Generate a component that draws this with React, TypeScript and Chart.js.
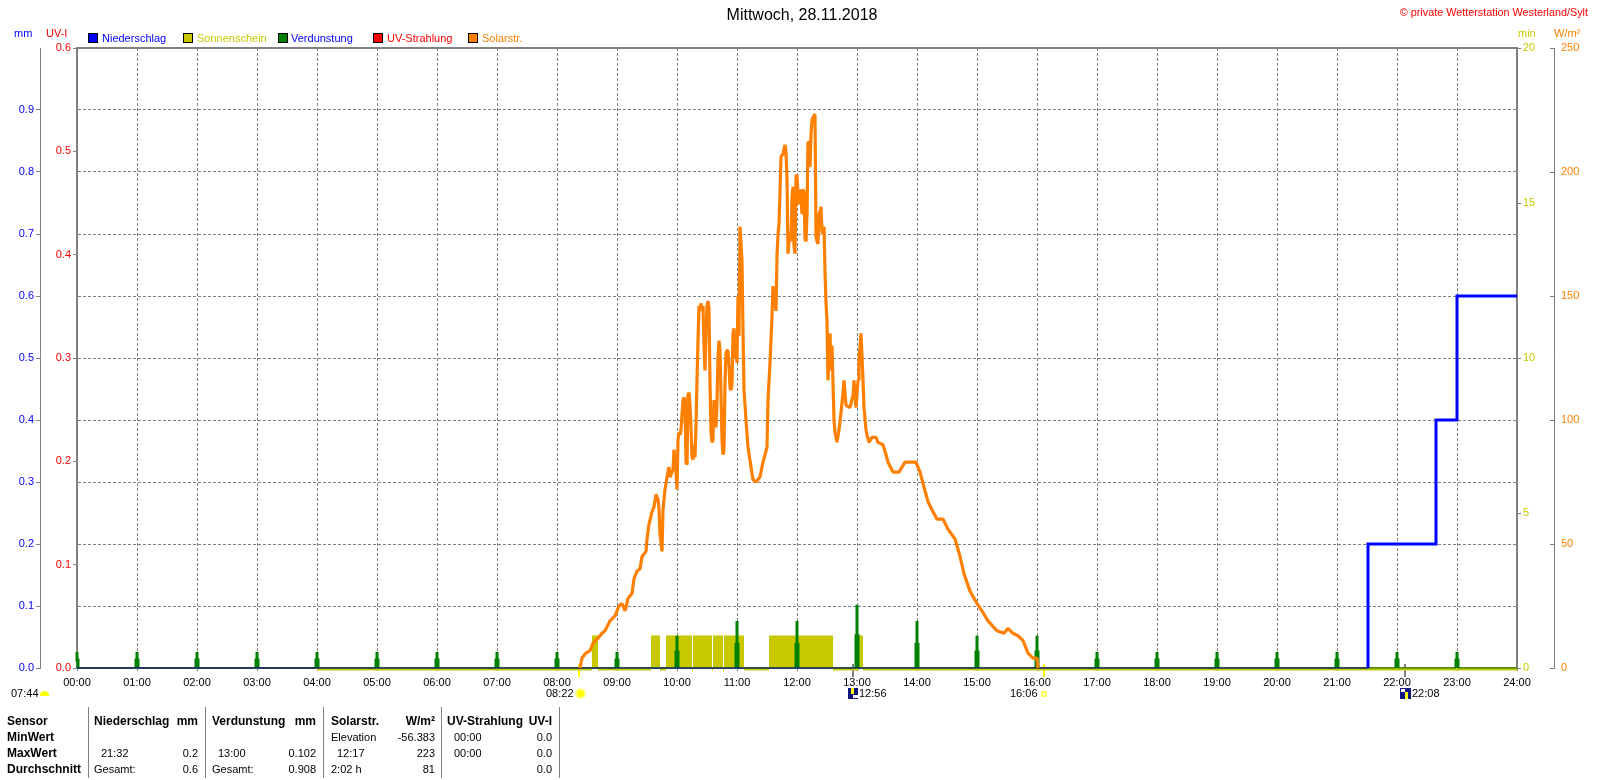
import React, { useEffect, useRef } from "react";
import { Chart, registerables } from "chart.js";

Chart.register(...registerables);

const FONT = '"Liberation Sans", Arial, sans-serif';
const GRAY = "#808080";
const OLIVE = "#c8c800";
const ORANGE = "#ff8000";

const hourLabels = ["00:00","01:00","02:00","03:00","04:00","05:00","06:00","07:00","08:00","09:00","10:00","11:00","12:00","13:00","14:00","15:00","16:00","17:00","18:00","19:00","20:00","21:00","22:00","23:00","24:00"];

const solarMinutes = [503,505,509,513,516,521,525,528,533,538,540,542,545,548,551,555,557,560,563,565,569,570,572,575,577,579,581,582,583,585,586,588,590,592,593,596,597,599,600,601,602,603,604,605,606,607,608,609,610,611,612,613,614,615,616,617,618,619,620,621,622,623,624,625,626,627,628,629,630,631,632,633,634,635,636,637,638,639,640,641,642,643,644,645,646,647,648,649,650,651,652,653,654,655,656,657,658,659,660,661,662,663,665,666,667,669,671,674,676,679,683,686,690,691,693,695,696,699,700,701,702,703,704,705,706,707,708,709,710,711,712,713,714,715,716,717,718,719,720,721,722,723,724,725,726,727,728,729,730,731,732,733,734,735,736,737,738,739,740,741,742,743,744,745,746,747,748,749,750,751,753,754,755,756,757,758,760,762,764,766,767,769,773,776,777,779,781,782,784,786,787,789,790,792,795,799,801,806,809,811,816,822,828,839,843,847,851,856,860,866,871,878,883,887,893,900,905,911,920,927,931,936,941,946,951,956,960,961];
const solarValues = [0,4,6,7,10,12,14,15,19,21,23,25,26,23,28,30,36,39,40,45,47,52,58,63,65,70,68,64,54,47,64,72,77,81,77,80,88,80,72,92,95,94,96,102,108,109,108,83,82,110,111,106,97,85,84,90,85,98,116,132,146,145,147,144,146,130,120,135,146,148,145,115,95,91,92,108,105,97,108,125,132,128,110,92,86,88,115,127,128,128,122,113,112,114,135,137,125,128,123,150,134,178,164,136,112,100,89,81,76,75,77,83,89,108,123,142,154,144,166,175,179,192,206,207,207,209,211,208,197,167,172,176,172,190,194,170,167,198,199,190,187,193,190,183,193,192,173,172,183,212,212,202,215,221,222,223,223,174,172,171,183,184,186,176,175,178,160,147,140,116,135,120,130,115,100,95,91,96,103,111,116,106,105,110,116,105,116,124,135,116,105,96,94,91,93,93,91,90,86,83,79,79,83,83,79,73,67,63,60,60,56,52,45,38,31,26,23,19,15,14,16,14,13,11,6,4,4,0];

const rainMinutes = [0,1291,1291,1359,1359,1380,1380,1440];
const rainValues = [0,0,0.2,0.2,0.4,0.4,0.6,0.6];

const sunMinutes = [240,515,515,521,521,574,574,583,583,589,589,615,615,616,616,635,635,636,636,646,646,647,647,667,667,692,692,756,756,782,782,786,786,1440];
const sunValues = [0,0,1.05,1.05,0,0,1.05,1.05,0,0,1.05,1.05,0,0,1.05,1.05,0,0,1.05,1.05,0,0,1.05,1.05,0,0,1.05,1.05,0,0,1.05,1.05,0,0];

const evapHours = [0,60,120,180,240,300,360,420,480,540,600,660,720,780,840,900,960,1020,1080,1140,1200,1260,1320,1380];
const evapTop = [0.026,0.026,0.026,0.026,0.026,0.026,0.026,0.026,0.026,0.026,0.052,0.076,0.076,0.102,0.076,0.052,0.052,0.026,0.026,0.026,0.026,0.026,0.026,0.026];
const evapBase = [0.013,0.013,0.013,0.013,0.013,0.013,0.013,0.013,0.013,0.013,0.026,0.038,0.038,0.052,0.038,0.026,0.026,0.013,0.013,0.013,0.013,0.013,0.013,0.013];

const uvMinutes = [0,1440];
const uvValues = [0,0];

const eventMinutes = [502,776,967,1328];
const eventColors = ["#ffff00","#808080","#ffff00","#808080"];

const zip = (xs: number[], ys: number[]) => xs.map((x, i) => ({ x, y: ys[i] }));
const evapPoints = evapHours.flatMap((h, i) => [
  { x: h - 1, y: 0 }, { x: h - 1, y: evapBase[i] }, { x: h, y: evapBase[i] }, { x: h, y: evapTop[i] },
  { x: h, y: evapBase[i] }, { x: h + 1, y: evapBase[i] }, { x: h + 1, y: 0 },
]);
evapPoints.push({ x: 1440, y: 0 });

const legendItems = [
  { label: "Niederschlag", box: "#0000ff", color: "#0000ff", x: 88, tx: 102 },
  { label: "Sonnenschein", box: OLIVE, color: OLIVE, x: 183, tx: 197 },
  { label: "Verdunstung", box: "#008000", color: "#0000ff", x: 278, tx: 291 },
  { label: "UV-Strahlung", box: "#ff0000", color: "#ff0000", x: 373, tx: 387 },
  { label: "Solarstr.", box: ORANGE, color: ORANGE, x: 468, tx: 482 },
];

type Cell = { t: string; x: number; y: number; right?: boolean; bold?: boolean; size?: number };
const tableCells: Cell[] = [
  { t: "Sensor", x: 7, y: 721, bold: true }, { t: "MinWert", x: 7, y: 737, bold: true }, { t: "MaxWert", x: 7, y: 753, bold: true }, { t: "Durchschnitt", x: 7, y: 769, bold: true },
  { t: "Niederschlag", x: 94, y: 721, bold: true }, { t: "mm", x: 198, y: 721, right: true, bold: true },
  { t: "21:32", x: 101, y: 753 }, { t: "0.2", x: 198, y: 753, right: true },
  { t: "Gesamt:", x: 94, y: 769 }, { t: "0.6", x: 198, y: 769, right: true },
  { t: "Verdunstung", x: 212, y: 721, bold: true }, { t: "mm", x: 316, y: 721, right: true, bold: true },
  { t: "13:00", x: 218, y: 753 }, { t: "0.102", x: 316, y: 753, right: true },
  { t: "Gesamt:", x: 212, y: 769 }, { t: "0.908", x: 316, y: 769, right: true },
  { t: "Solarstr.", x: 331, y: 721, bold: true }, { t: "W/m²", x: 435, y: 721, right: true, bold: true },
  { t: "Elevation", x: 331, y: 737 }, { t: "-56.383", x: 435, y: 737, right: true },
  { t: "12:17", x: 337, y: 753 }, { t: "223", x: 435, y: 753, right: true },
  { t: "2:02 h", x: 331, y: 769 }, { t: "81", x: 435, y: 769, right: true },
  { t: "UV-Strahlung", x: 447, y: 721, bold: true }, { t: "UV-I", x: 552, y: 721, right: true, bold: true },
  { t: "00:00", x: 454, y: 737 }, { t: "0.0", x: 552, y: 737, right: true },
  { t: "00:00", x: 454, y: 753 }, { t: "0.0", x: 552, y: 753, right: true },
  { t: "0.0", x: 552, y: 769, right: true },
];
const tableRules = [88, 205, 323, 441, 559];

const frameAndTicks = {
  id: "frameAndTicks",
  beforeDatasetsDraw(chart: any) {
    const { ctx, chartArea: a, scales } = chart;
    ctx.save();
    ctx.strokeStyle = GRAY;
    ctx.lineWidth = 2;
    ctx.strokeRect(a.left, a.top, a.right - a.left, a.bottom - a.top);
    ctx.lineWidth = 1;
    const w = scales.w;
    [0, 50, 100, 150, 200, 250].forEach((v) => {
      const y = Math.round(w.getPixelForValue(v)) + 0.5;
      ctx.beginPath();
      ctx.moveTo(w.left - 4, y);
      ctx.lineTo(w.left, y);
      ctx.stroke();
    });
    ctx.lineWidth = 2;
    eventMinutes.forEach((m, i) => {
      const x = scales.x.getPixelForValue(m);
      ctx.strokeStyle = eventColors[i];
      ctx.beginPath();
      ctx.moveTo(x, a.bottom - 4);
      ctx.lineTo(x, a.bottom + 9);
      ctx.stroke();
    });
    ctx.restore();
  },
  beforeDatasetDraw(chart: any, args: any) {
    chart.ctx.save();
    if (chart.data.datasets[args.index].label === "Sonnenschein") chart.ctx.translate(0, 1);
  },
  afterDatasetDraw(chart: any) {
    chart.ctx.restore();
  },
};

const tick = (font = 11) => ({ size: font, family: FONT });
const zeroRun = (c: any) => c.p0.parsed.y === 0 && c.p1.parsed.y === 0;

function Txt({ t, x, y, color = "#000", size = 11, right, bold, center }: any) {
  return (
    <span
      style={{
        position: "absolute",
        left: right || center ? undefined : x,
        right: right ? 1600 - x : undefined,
        ...(center ? { left: x, transform: "translate(-50%,-50%)" } : { transform: "translateY(-50%)" }),
        top: y,
        color,
        font: `${bold ? "bold " : ""}${bold ? 12 : size}px ${FONT}`,
        whiteSpace: "nowrap",
        lineHeight: 1,
      }}
    >
      {t}
    </span>
  );
}

export default function App() {
  const ref = useRef<HTMLCanvasElement>(null);
  useEffect(() => {
    document.body.style.margin = "0";
    const chart = new Chart(ref.current as HTMLCanvasElement, {
      type: "line",
      data: {
        datasets: [
          { label: "UV-Strahlung", data: zip(uvMinutes, uvValues), yAxisID: "uv", borderColor: "#ff0000", borderWidth: 1, pointRadius: 0, order: 6 },
          { label: "Sonnenschein", data: zip(sunMinutes, sunValues), yAxisID: "min", borderColor: OLIVE, backgroundColor: OLIVE, borderWidth: 3, fill: "origin", pointRadius: 0, order: 5, clip: 4,
            segment: { borderColor: (c: any) => (zeroRun(c) ? OLIVE : "rgba(0,0,0,0)") } },
          { label: "Verdunstung", data: evapPoints, yAxisID: "mm", borderColor: "#008000", borderWidth: 3, pointRadius: 0, order: 4, clip: 4,
            segment: { borderWidth: (c: any) => (zeroRun(c) ? 1 : 3) } },
          { label: "Niederschlag", data: zip(rainMinutes, rainValues), yAxisID: "mm", borderColor: "#0000ff", borderWidth: 3, pointRadius: 0, order: 2, clip: 4,
            segment: { borderWidth: (c: any) => (zeroRun(c) ? 1 : 3), borderColor: (c: any) => (zeroRun(c) ? "#000090" : "#0000ff") } },
          { label: "Solarstr.", data: zip(solarMinutes, solarValues), yAxisID: "w", borderColor: ORANGE, borderWidth: 3.2, pointRadius: 0, order: 1, borderJoinStyle: "bevel" },
        ],
      } as any,
      options: {
        responsive: false,
        animation: false,
        devicePixelRatio: 1,
        layout: { padding: { top: 48, left: 0, right: 0, bottom: 0 } },
        plugins: { legend: { display: false }, tooltip: { enabled: false }, title: { display: false } },
        scales: {
          x: {
            type: "linear", min: 0, max: 1440,
            afterFit: (s: any) => { s.height = 112; },
            afterBuildTicks: (s: any) => { s.ticks = hourLabels.map((_, i) => ({ value: i * 60 })); },
            border: { display: false, dash: [3, 2] },
            grid: { color: (c: any) => (c.tick && (c.tick.value === 0 || c.tick.value === 1440) ? "rgba(0,0,0,0)" : GRAY), drawTicks: true, tickLength: 3, tickColor: GRAY, tickBorderDash: [] },
            ticks: { color: "#000", font: tick(), padding: 5, maxRotation: 0, autoSkip: false, callback: (_: any, i: number) => hourLabels[i] },
          },
          mm: {
            type: "linear", position: "left", min: 0, max: 1, weight: 2,
            afterFit: (s: any) => { s.width = 40; },
            afterBuildTicks: (s: any) => { s.ticks = [0,0.1,0.2,0.3,0.4,0.5,0.6,0.7,0.8,0.9].map((value) => ({ value })); },
            border: { display: true, color: GRAY, width: 1, dash: [3, 2] },
            grid: { color: (c: any) => (c.tick && c.tick.value === 0 ? "rgba(0,0,0,0)" : GRAY), tickColor: GRAY, tickLength: 4, tickBorderDash: [] },
            ticks: { color: "#0000ff", font: tick(), padding: 2, callback: (v: any) => Number(v).toFixed(1) },
          },
          uv: {
            type: "linear", position: "left", min: 0, max: 0.6, weight: 1,
            afterFit: (s: any) => { s.width = 37; },
            afterBuildTicks: (s: any) => { s.ticks = [0,0.1,0.2,0.3,0.4,0.5,0.6].map((value) => ({ value })); },
            border: { display: false },
            grid: { drawOnChartArea: false, color: GRAY, tickLength: 4 },
            ticks: { color: "#ff0000", font: tick(), padding: 2, callback: (v: any) => Number(v).toFixed(1) },
          },
          min: {
            type: "linear", position: "right", min: 0, max: 20, weight: 1,
            afterFit: (s: any) => { s.width = 37; },
            afterBuildTicks: (s: any) => { s.ticks = [0,5,10,15,20].map((value) => ({ value })); },
            border: { display: false },
            grid: { drawOnChartArea: false, color: GRAY, tickLength: 4 },
            ticks: { color: OLIVE, font: tick(), padding: 2, callback: (v: any) => String(v) },
          },
          w: {
            type: "linear", position: "right", min: 0, max: 250, weight: 2,
            afterFit: (s: any) => { s.width = 46; },
            afterBuildTicks: (s: any) => { s.ticks = [0,50,100,150,200,250].map((value) => ({ value })); },
            border: { display: true, color: GRAY, width: 1 },
            grid: { drawOnChartArea: false, drawTicks: false },
            ticks: { color: ORANGE, font: tick(), padding: 7, callback: (v: any) => String(v) },
          },
        },
      },
      plugins: [frameAndTicks],
    } as any);
    return () => chart.destroy();
  }, []);

  return (
    <div style={{ position: "relative", width: 1600, height: 780, overflow: "hidden", background: "#fff" }}>
      <canvas ref={ref} width={1600} height={780} style={{ position: "absolute", left: 0, top: 0, display: "block" }} />
      <Txt t="Mittwoch, 28.11.2018" x={802} y={15} size={16} center />
      <Txt t="© private Wetterstation Westerland/Sylt" x={1588} y={12} size={10.8} color="#ff0000" right />
      <Txt t="mm" x={14} y={33} color="#0000ff" />
      <Txt t="UV-I" x={46} y={33} color="#ff0000" />
      <Txt t="min" x={1518} y={33} color={OLIVE} />
      <Txt t="W/m²" x={1554} y={33} color={ORANGE} />
      {legendItems.map((l) => (
        <React.Fragment key={l.label}>
          <div style={{ position: "absolute", left: l.x, top: 33, width: 8, height: 8, background: l.box, border: "1px solid #000" }} />
          <Txt t={l.label} x={l.tx} y={38} color={l.color} />
        </React.Fragment>
      ))}
      <Txt t="07:44" x={11} y={693} />
      <div style={{ position: "absolute", left: 40, top: 691, width: 9, height: 5, background: "#ffff00", borderRadius: "5px 5px 0 0" }} />
      <Txt t="08:22" x={546} y={693} />
      <div style={{ position: "absolute", left: 577, top: 690, width: 7, height: 7, background: "#ffff00", borderRadius: "50%", boxShadow: "0 0 0 2px #ffff90" }} />
      <div style={{ position: "absolute", left: 848, top: 688, width: 10, height: 11, background: "#101880" }}>
        <div style={{ position: "absolute", left: 5, top: 7, width: 5, height: 3, background: "#fff" }} />
        <div style={{ position: "absolute", left: 3, top: 0, width: 3, height: 6, background: "#ffff00" }} />
      </div>
      <Txt t="12:56" x={859} y={693} />
      <Txt t="16:06" x={1010} y={693} />
      <div style={{ position: "absolute", left: 1041, top: 691, width: 2, height: 2, border: "2px solid #ffff60" }} />
      <div style={{ position: "absolute", left: 1400, top: 688, width: 11, height: 11, background: "#101880" }}>
        <div style={{ position: "absolute", left: 1, top: 1, width: 4, height: 3, background: "#fff" }} />
        <div style={{ position: "absolute", left: 5, top: 4, width: 3, height: 7, background: "#ffff00" }} />
      </div>
      <Txt t="22:08" x={1412} y={693} />
      {tableRules.map((x) => (
        <div key={x} style={{ position: "absolute", left: x, top: 707, width: 1, height: 71, background: "#808080" }} />
      ))}
      {tableCells.map((c, i) => (
        <Txt key={i} {...c} />
      ))}
    </div>
  );
}
